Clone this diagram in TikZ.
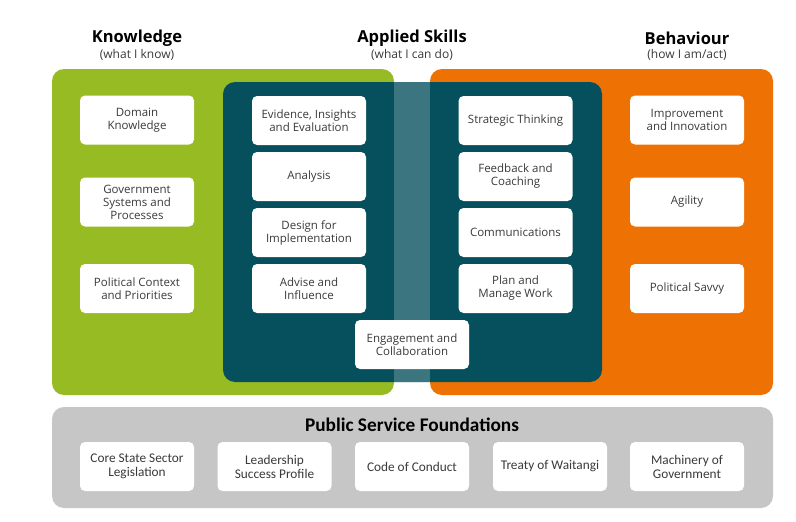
\documentclass[tikz,border=0pt]{standalone}
\usepackage{fontspec}
\usepackage{tikz}
\usepackage{xcolor}
\setmainfont{Open Sans}
\newfontfamily\foundationfont{Carlito}
\newlength{\itemwidth}
\newlength{\itemheight}
\newlength{\panelradius}
\setlength{\itemwidth}{114pt}
\setlength{\itemheight}{49pt}
\setlength{\panelradius}{12pt}
\definecolor{knowledgegreen}{HTML}{97BB22}
\definecolor{behaviourorange}{HTML}{EE7203}
\definecolor{skillsteal}{HTML}{05505C}
\definecolor{skillsoverlap}{HTML}{3B7680}
\definecolor{foundationgray}{HTML}{C6C6C6}
\definecolor{mainfont}{HTML}{3A3A3A}
\tikzset{
  item/.style={fill=white, rounded corners=5pt, minimum width=\itemwidth,
    minimum height=\itemheight, align=center, inner sep=2pt, text=mainfont,
    font=\fontsize{11.5}{13}\selectfont},
  baseitem/.style={item, font=\foundationfont\fontsize{13.3}{14}\selectfont},
  header/.style={font=\bfseries\fontsize{16.5}{18}\selectfont, text=black},
  subheader/.style={font=\fontsize{12}{13}\selectfont, text=mainfont}
}
\begin{document}
\begin{tikzpicture}[x=1pt, y=-1pt]
				% Boundary box
				\useasboundingbox (0,0) rectangle (796,522);
				\fill[white] (0,0) rectangle (796,522);

				% Column headers
				\node[header] (knowhead) at (137,38) {Knowledge};
				\node[subheader] (knowsub) at (137,55) {(what I know)};
				\node[header] (skillhead) at (412,38) {Applied Skills};
				\node[subheader] (skillsub) at (412,55) {(what I can do)};
				\node[header] (behavhead) at (687,38) {Behaviour};
				\node[subheader] (behavsub) at (687,55) {(how I am/act)};

				% Panels
				% Knowledge and behaviour panels
				\fill[knowledgegreen, rounded corners=\panelradius] (52,69) rectangle (394,395);
				\fill[behaviourorange, rounded corners=\panelradius] (430,69) rectangle (773,395);

				% Applied skills panel on top of both
				\fill[skillsteal, rounded corners=\panelradius] (223,82) rectangle (602,382);
				\fill[skillsoverlap] (394,82) rectangle (430,382);

				% Foundations panel
				\fill[foundationgray, rounded corners=\panelradius] (52,407) rectangle (773,508);

				% Knowledge items
				\node[item] (domain) at (137,120) {Domain\\Knowledge};
				\node[item] (govsystems) at (137,202) {Government\\Systems and\\Processes};
				\node[item] (polcontext) at (137,288.5) {Political Context\\and Priorities};

				% Applied skills items
				\node[item] (evidence) at (309,120.5) {Evidence, Insights\\and Evaluation};
				\node[item] (analysis) at (309,176.5) {Analysis};
				\node[item] (design) at (309,232.5) {Design for\\Implementation};
				\node[item] (advise) at (309,288.5) {Advise and\\Influence};
				\node[item] (strategic) at (515.5,120.5) {Strategic Thinking};
				\node[item] (feedback) at (515.5,176.5) {Feedback and\\Coaching};
				\node[item] (comms) at (515.5,232.5) {Communications};
				\node[item] (planwork) at (515.5,288.5) {Plan and\\Manage Work};
				\node[item] (engage) at (412,344.5) {Engagement and\\Collaboration};

				% Behaviour items
				\node[item] (improve) at (687,120) {Improvement\\and Innovation};
				\node[item] (agility) at (687,202) {Agility};
				\node[item] (savvy) at (687,288.5) {Political Savvy};

				% Foundations
				\node[font=\foundationfont\bfseries\fontsize{19.3}{21}\selectfont, text=black] (foundhead) at (412,425) {Public Service Foundations};
				\node[baseitem] (legislation) at (137,466.5) {Core State Sector\\Legislation};
				\node[baseitem] (leadership) at (274.5,466.5) {Leadership\\Success Profile};
				\node[baseitem] (conduct) at (412,466.5) {Code of Conduct};
				\node[baseitem] (treaty) at (550,466.5) {Treaty of Waitangi};
				\node[baseitem] (machinery) at (687,466.5) {Machinery of\\Government};
			\end{tikzpicture}
\end{document}
